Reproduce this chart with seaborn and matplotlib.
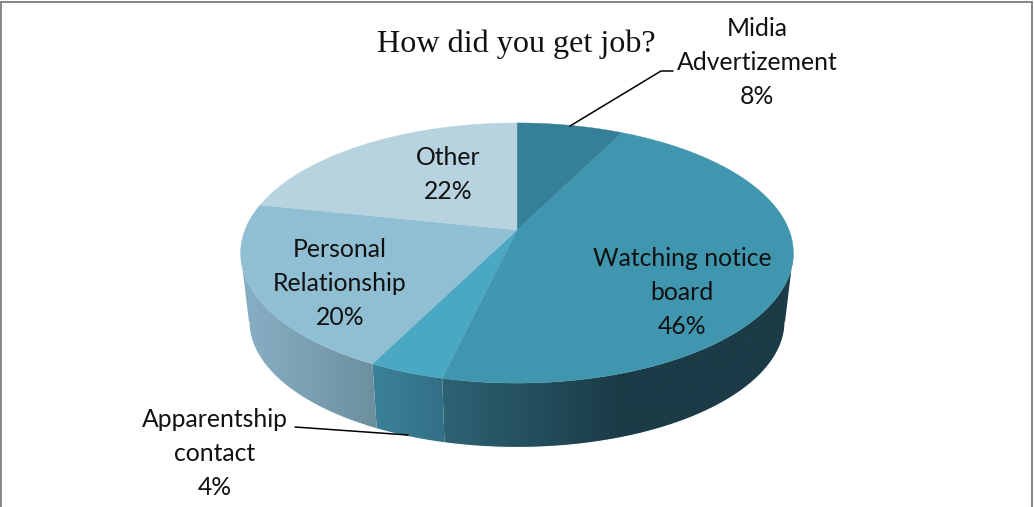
import numpy as np
import matplotlib
matplotlib.use("Agg")
import matplotlib.pyplot as plt
from matplotlib.patches import Polygon
import seaborn as sns

# Survey answers, clockwise from twelve o'clock
categories = ["Midia\nAdvertizement", "Watching notice\nboard", "Apparentship\ncontact",
              "Personal\nRelationship", "Other"]
shares = [8, 46, 4, 20, 22]

top_colors = ["#357F98", "#4095AF", "#4AA8C3", "#90BFD3", "#B7D3DF"]
side_colors = [("#2A6274", "#2A6274"),
               ("#2D6374", "#1B3B47", "#1B3B47"),
               ("#3B8299", "#336F85"),
               ("#87AFC3", "#7BA0B3", "#6C8F9D"),
               ("#87AFC3", "#87AFC3")]
label_positions = [(757, 62.5), (682, 292.5), (215, 453.5), (340, 283.5), (448, 174.5)]

sns.set_theme(style="white")
plt.rcParams["font.family"] = ["Lato", "DejaVu Sans"]

CX, CY = 517.0, 230.0
A, B, K = 272.0, 126.0, 0.177
BASE_SCALE, BASE_CY = 0.97, 299.0
FORESHORTEN = 0.91


def view_angle(theta):
    """Angle on the drawn rim for an angle around the pie."""
    return np.arctan2(FORESHORTEN * np.sin(theta), np.cos(theta))


def rim(theta, scale=1.0, cy=CY):
    """Perspective projection of points on the pie's circular rim."""
    phi = view_angle(theta)
    x, y = np.sin(phi), np.cos(phi)
    w = 1 + K * y
    return CX + scale * A * x / w, cy - scale * B * y / w


fig = plt.figure(figsize=(10.34, 5.07), dpi=100, facecolor="white")
ax = fig.add_axes([0, 0, 1, 1])
ax.axis("off")

edges = 2 * np.pi * np.cumsum([0] + shares) / sum(shares)

# Side wall: a horizontal gradient clipped to each slice's band,
# which stops where the rim reaches its widest point
for i in range(len(shares)):
    thetas = np.linspace(edges[i], edges[i + 1], 600)
    thetas = thetas[np.cos(view_angle(thetas)) < -K]
    if thetas.size < 2:
        continue
    tx, ty = rim(thetas)
    bx, by = rim(thetas, BASE_SCALE, BASE_CY)
    band = Polygon(np.c_[np.r_[tx, bx[::-1]], np.r_[ty, by[::-1]]], closed=True,
                   transform=ax.transData, fc="none", ec="none")
    ax.add_patch(band)
    ramp = np.array(sns.blend_palette(list(side_colors[i]), 256))[:, :3][None, :, :]
    left, right = min(tx.min(), bx.min()), max(tx.max(), bx.max())
    image = ax.imshow(ramp, extent=(left, right, by.max() + 2, ty.min() - 2), aspect="auto",
                      interpolation="bilinear", zorder=2)
    image.set_clip_path(band)

# Soften the lower outline of the wall
outline = np.linspace(0, 2 * np.pi, 800)
outline = outline[np.cos(view_angle(outline)) < -K]
ax.plot(*rim(outline, BASE_SCALE, BASE_CY), color="white", lw=0.8, zorder=2.5)

ax.set_xlim(0, 1034)
ax.set_ylim(507, 0)
ax.set_aspect("auto")

# Top face
for i, color in enumerate(top_colors):
    thetas = np.linspace(edges[i], edges[i + 1], 200)
    x, y = rim(thetas)
    ax.fill(np.r_[CX, x], np.r_[CY, y], color=color, lw=0.3, zorder=3)

# Labels and leader lines
for cat, share, (lx, ly) in zip(categories, shares, label_positions):
    ax.text(lx, ly, f"{cat}\n{share}%", ha="center", va="center", fontsize=17.8,
            color="#111111", linespacing=1.56, zorder=5)
ax.plot([570, 661, 673], [126, 71, 71], color="black", lw=1.1, zorder=4)
ax.plot([295, 408], [427, 435], color="black", lw=1.1, zorder=4)

ax.text(516.5, 44, "How did you get job?", ha="center", va="center", fontsize=23.1,
        family="Liberation Serif", color="#111111", zorder=5)

# Chart frame
for xs, ys in [([1, 1], [507, 2]), ([1, 1032], [2, 2]), ([1032, 1032], [2, 507])]:
    ax.plot(xs, ys, color="#868686", lw=1.4, zorder=1)

fig.savefig("out.png", dpi=100, facecolor="white")
